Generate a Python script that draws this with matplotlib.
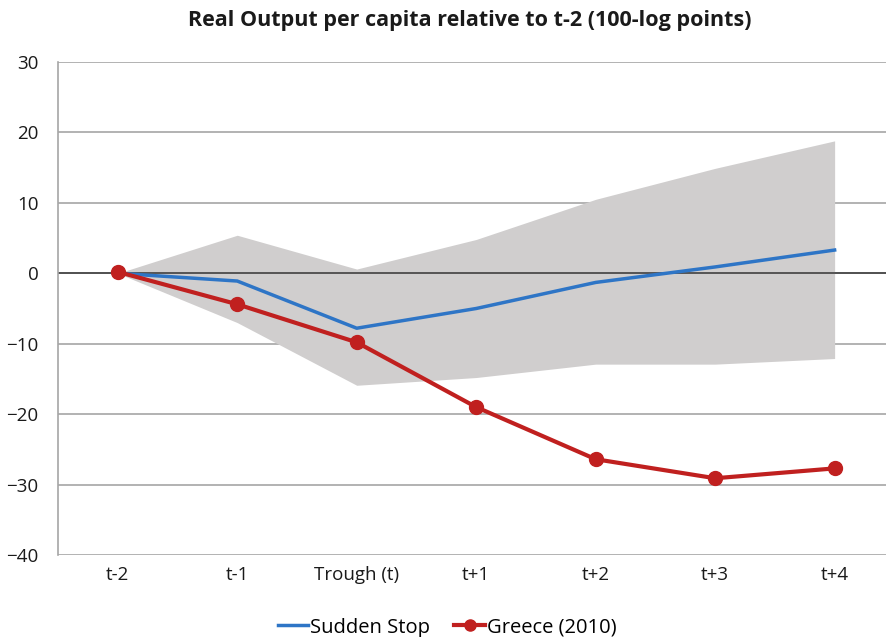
import matplotlib
matplotlib.use('Agg')
import matplotlib.pyplot as plt

plt.rcParams['font.family'] = ['Open Sans', 'DejaVu Sans']

periods = ['t-2', 't-1', 'Trough (t)', 't+1', 't+2', 't+3', 't+4']
sudden_stop = [0.0, -1.1, -7.8, -5.0, -1.3, 0.9, 3.3]
greece = [0.2, -4.4, -9.8, -19.0, -26.4, -29.1, -27.7]
band_upper = [0.0, 5.4, 0.6, 4.8, 10.5, 14.9, 18.8]
band_lower = [0.0, -7.0, -15.9, -14.8, -12.9, -12.9, -12.1]
yticks = [-40, -30, -20, -10, 0, 10, 20, 30]

fig = plt.figure(figsize=(8.86, 6.37), dpi=100)
ax = fig.add_axes([0.0655, 0.1287, 0.9345, 0.774])

x = list(range(len(periods)))

# grid
for y in yticks:
    ax.axhline(y, color='#a6a6a6', lw=1.2, zorder=0)

ax.fill_between(x, band_lower, band_upper, color='#d0cece', lw=0, zorder=1)
ax.axhline(0, color='#404040', lw=1.2, zorder=2)

ax.plot(x, sudden_stop, color='#2e75c6', lw=2.5, label='Sudden Stop', zorder=3)
ax.plot(x, greece, color='#c0201f', lw=3, marker='o', ms=10, label='Greece (2010)', zorder=4)

ax.set_xlim(-0.5, 6.43)
ax.set_ylim(-40, 30)
ax.set_yticks(yticks)
ax.set_xticks(x)
ax.set_xticklabels(periods)
ax.tick_params(length=0, labelsize=13.5, colors='#1a1a1a', pad=8)
ax.tick_params(axis='y', pad=14)

for s in ['top', 'right', 'bottom']:
    ax.spines[s].set_visible(False)
ax.spines['left'].set_color('#a6a6a6')
ax.spines['left'].set_linewidth(1.2)

fig.suptitle('Real Output per capita relative to t-2 (100-log points)',
             x=0.53, y=0.985, fontsize=15.5, fontweight='bold', color='#1a1a1a')

ax.legend(loc='upper center', bbox_to_anchor=(0.47, -0.09), ncol=2, frameon=False,
          fontsize=14.5, handlelength=1.5, handletextpad=0.1, columnspacing=1.2,
          markerscale=0.8)

plt.savefig('out.png', dpi=100)
